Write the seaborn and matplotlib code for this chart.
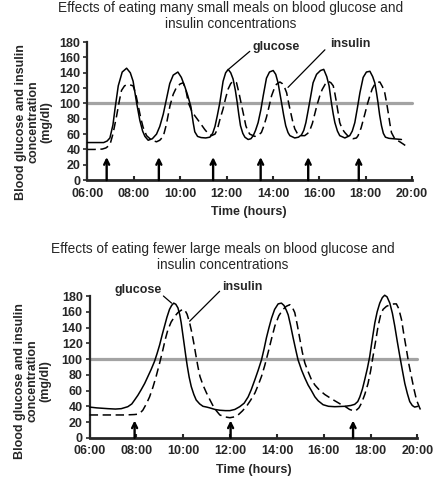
import numpy as np
import pandas as pd
import matplotlib
matplotlib.use("Agg")
import matplotlib.pyplot as plt
import seaborn as sns

# ---- many small meals (hours, mg/dl) ----
small_glu_t = [6.0, 6.4, 6.7, 6.85, 6.97, 7.1, 7.19, 7.33, 7.5, 7.69, 7.85, 7.97, 8.12, 8.26, 8.38, 8.48, 8.62,
               8.8, 8.98, 9.12, 9.27, 9.41, 9.55, 9.7, 9.9, 10.05, 10.2, 10.33, 10.46, 10.56, 10.63, 10.75, 10.9,
               11.1, 11.28, 11.4, 11.5, 11.6, 11.71, 11.85, 11.96, 12.07, 12.18, 12.28, 12.38, 12.46, 12.53, 12.6,
               12.7, 12.79, 12.93, 13.05, 13.15, 13.25, 13.36, 13.48, 13.58, 13.72, 13.85, 14.01, 14.12, 14.22,
               14.3, 14.37, 14.46, 14.55, 14.65, 14.73, 14.94, 15.1, 15.23, 15.33, 15.42, 15.5, 15.59, 15.73,
               15.88, 16.05, 16.19, 16.32, 16.42, 16.52, 16.6, 16.67, 16.78, 16.88, 17.1, 17.31, 17.42, 17.53,
               17.64, 17.75, 17.89, 18.03, 18.18, 18.3, 18.39, 18.46, 18.53, 18.6, 18.68, 18.76, 18.85, 19.0,
               19.18, 19.36, 19.54]
small_glu_v = [49, 49, 49, 51, 55, 72, 93, 123, 141, 146, 140, 129, 101, 78, 64, 57, 52,
               54, 60, 70, 86, 106, 126, 137, 141, 134, 122, 110, 96, 75, 63, 57, 55.5,
               55, 56, 61, 70, 84, 101, 129, 140, 144.5, 140, 132, 117, 101, 85, 71,
               61, 56, 53, 54, 58, 65, 75, 92, 110, 133, 141, 143, 138, 127,
               113, 101, 85, 71, 62, 58, 55, 56, 59, 65, 75, 88, 103, 127,
               138, 143, 144.5, 135, 123, 101, 86, 75, 64, 58, 55, 58, 64, 75,
               94, 114, 134, 141, 142, 135, 127, 115, 101, 85, 71, 61, 56, 54.5,
               54, 53.5, 53]
small_ins_t = [6.0, 6.3, 6.64, 6.8, 6.97, 7.1, 7.26, 7.38, 7.47, 7.6, 7.75, 7.97, 8.08, 8.19, 8.3, 8.4, 8.55,
               8.77, 8.98, 9.12, 9.27, 9.4, 9.56, 9.7, 9.84, 10.0, 10.13, 10.25, 10.35, 10.5, 10.63, 10.85,
               11.06, 11.2, 11.35, 11.5, 11.6, 11.72, 11.85, 11.96, 12.07, 12.18, 12.28, 12.43, 12.54, 12.65,
               12.75, 12.83, 12.92, 13.0, 13.22, 13.38, 13.5, 13.6, 13.72, 13.84, 13.94, 14.05, 14.15, 14.3,
               14.4, 14.5, 14.59, 14.66, 14.73, 14.84, 14.94, 15.05, 15.16, 15.37, 15.5, 15.59, 15.7, 15.8,
               15.9, 16.02, 16.12, 16.25, 16.38, 16.5, 16.6, 16.67, 16.74, 16.81, 16.88, 16.98, 17.1, 17.25,
               17.46, 17.6, 17.67, 17.8, 17.96, 18.08, 18.18, 18.28, 18.39, 18.5, 18.61, 18.72, 18.82, 18.9,
               18.97, 19.04, 19.11, 19.25, 19.47, 19.62, 19.76]
small_ins_v = [40, 40, 40.5, 42, 46, 60, 84, 104, 117, 123, 125, 123, 113, 97, 81, 69, 58,
               52, 50, 52, 57, 72, 97, 112, 121, 125.5, 127, 117, 101, 90, 84, 75,
               66, 61, 58, 60, 66, 80, 93, 107, 119, 126, 129, 127, 113, 97,
               83, 71, 64, 60, 57, 59, 62, 70, 82, 97, 110, 119, 125, 128,
               126, 121, 114, 103, 93, 78, 67, 61, 58, 58, 61, 65, 74, 86,
               98, 110, 118, 125, 129, 127, 123, 113, 101, 88, 75, 67, 62, 57,
               54, 55, 58, 68, 86, 100, 110, 119, 125, 127.5, 128, 122, 114, 101,
               88, 74, 62, 54, 50, 47, 44]
small_meals = [6.83, 9.08, 11.42, 13.47, 15.52, 17.7]

# ---- fewer large meals ----
large_glu_t = [6.0, 6.3, 6.78, 7.1, 7.35, 7.63, 7.8, 7.92, 8.06, 8.2, 8.35, 8.49, 8.63, 8.77, 8.88, 8.99, 9.1,
               9.2, 9.3, 9.41, 9.5, 9.59, 9.68, 9.77, 9.85, 9.91, 9.98, 10.05, 10.11, 10.17, 10.25, 10.34,
               10.45, 10.55, 10.7, 10.84, 11.0, 11.13, 11.35, 11.56, 11.8, 11.99, 12.2, 12.41, 12.6, 12.77,
               12.9, 13.06, 13.2, 13.34, 13.45, 13.55, 13.66, 13.77, 13.9, 14.05, 14.19, 14.3, 14.4, 14.48,
               14.58, 14.69, 14.8, 14.9, 15.05, 15.19, 15.33, 15.47, 15.62, 15.76, 15.97, 16.2, 16.47, 16.9,
               17.15, 17.32, 17.45, 17.54, 17.65, 17.75, 17.86, 17.96, 18.07, 18.18, 18.28, 18.39, 18.5,
               18.6, 18.7, 18.82, 18.93, 19.03, 19.14, 19.25, 19.36, 19.46, 19.57, 19.67, 19.78, 19.88, 20.02]
large_glu_v = [39, 38, 37, 36.5, 37, 39.5, 43, 48, 54, 61, 69, 78, 87, 97, 107, 118, 131,
               142, 153, 163, 168, 171, 169.5, 165, 156, 146, 131, 116, 103, 91, 77, 65,
               55, 48, 43, 40, 39, 38, 36, 35, 34.5, 34.5, 36, 39.5, 44, 52,
               61, 74, 86, 99, 113, 127, 140, 152, 163, 170, 171, 168, 162, 156,
               143, 127, 112, 99, 86, 76, 67, 60, 52, 47, 42, 40, 39.5, 40,
               41, 42.5, 46, 52, 62, 74, 88, 103, 125, 146, 160, 171, 178,
               181, 179, 171, 158, 142, 122, 103, 85, 69, 56, 46, 41, 39, 40]
large_ins_t = [6.0, 6.5, 7.0, 7.5, 7.9, 8.06, 8.17, 8.27, 8.42, 8.56, 8.7, 8.84, 8.99, 9.13, 9.23, 9.34, 9.48,
               9.63, 9.77, 9.91, 10.05, 10.16, 10.27, 10.36, 10.45, 10.53, 10.62, 10.71, 10.84, 10.99, 11.14,
               11.28, 11.42, 11.56, 11.78, 11.99, 12.17, 12.34, 12.52, 12.7, 12.88, 13.06, 13.2, 13.34, 13.48,
               13.62, 13.77, 13.91, 14.08, 14.26, 14.4, 14.55, 14.65, 14.76, 14.87, 14.98, 15.08, 15.19, 15.33,
               15.47, 15.62, 15.8, 16.04, 16.25, 16.47, 16.7, 16.9, 17.1, 17.25, 17.35, 17.5, 17.61, 17.75,
               17.89, 18.0, 18.1, 18.21, 18.32, 18.42, 18.53, 18.68, 18.85, 19.0, 19.1, 19.2, 19.32, 19.42,
               19.53, 19.63, 19.74, 19.85, 19.96, 20.08, 20.17]
large_ins_v = [29, 29, 29, 29, 29.5, 30, 32, 35, 43, 52, 64, 78, 95, 112, 125, 137, 147,
               154, 159, 162, 163, 157, 146, 134, 120, 106, 91, 78, 67, 57, 48,
               40, 34, 29, 26.5, 25.5, 26.5, 29, 34, 40, 48, 57, 67, 78, 92,
               108, 126, 142, 155, 163, 167, 169, 166, 159, 143, 125, 109, 95, 84,
               74, 67, 61, 55, 51, 47, 43, 40, 36, 34.5, 34, 38, 44, 55,
               69, 85, 103, 122, 142, 155, 163, 167, 169, 170, 170, 164, 150, 131,
               112, 94, 78, 62, 48, 39, 33]
large_meals = [7.92, 12.02, 17.25]

ref_level = 100
hour_ticks = [6, 8, 10, 12, 14, 16, 18, 20]
hour_labels = ["06:00", "08:00", "10:00", "12:00", "14:00", "16:00", "18:00", "20:00"]
y_ticks = list(range(0, 181, 20))

sns.set_style("ticks")
plt.rcParams['font.family'] = ['Liberation Sans', 'DejaVu Sans']

fig = plt.figure(figsize=(4.46, 4.79), dpi=100)
ax1 = fig.add_axes([0.196, 0.624, 0.728, 0.288])
ax2 = fig.add_axes([0.201, 0.086, 0.735, 0.296])


def draw(ax, gt, gv, it, iv, meals, arrow_h):
    ax.axhline(ref_level, color="#a3a3a3", lw=2.3, zorder=1)
    sns.lineplot(x=gt, y=gv, ax=ax, color="black", lw=1.1, zorder=3)
    sns.lineplot(x=it, y=iv, ax=ax, color="black", lw=1.1, zorder=3,
                 linestyle=(0, (5.5, 3)))
    for line in ax.lines:
        line.set_clip_on(False)
    for m in meals:
        ax.annotate("", xy=(m, arrow_h), xytext=(m, 0),
                    arrowprops=dict(arrowstyle="->", lw=1.7, color="black",
                                    mutation_scale=9, shrinkA=0, shrinkB=0))
    ax.set_xlim(6, 20)
    ax.set_ylim(0, 180)
    ax.set_xticks(hour_ticks)
    ax.set_xticklabels(hour_labels)
    ax.set_yticks(y_ticks)
    for lab in ax.get_xticklabels() + ax.get_yticklabels():
        lab.set_fontweight("bold")
        lab.set_fontsize(9)
    ax.tick_params(axis="x", direction="in", length=3, width=1.5, pad=5.5)
    ax.tick_params(axis="y", direction="out", length=3, width=1.2, pad=2)
    sns.despine(ax=ax)
    ax.spines["left"].set_linewidth(1.6)
    ax.spines["bottom"].set_linewidth(2.0)
    ax.set_xlabel("Time (hours)", fontsize=9, fontweight="bold")
    ax.set_ylabel("Blood glucose and insulin\nconcentration\n(mg/dl)",
                  fontsize=9, fontweight="bold", linespacing=1.1)


draw(ax1, small_glu_t, small_glu_v, small_ins_t, small_ins_v, small_meals, 30)
draw(ax2, large_glu_t, large_glu_v, large_ins_t, large_ins_v, large_meals, 22)

ax1.xaxis.set_label_coords(0.497, -0.19)
ax1.yaxis.set_label_coords(-0.107, 0.42)
ax2.xaxis.set_label_coords(0.50, -0.185)
ax2.yaxis.set_label_coords(-0.116, 0.40)

# curve labels
ax1.text(13.1, 174, "glucose", fontsize=9, fontweight="bold", va="center", ha="left")
ax1.plot([13.0, 12.1], [168, 145], color="black", lw=0.9, clip_on=False)
ax1.text(16.45, 177, "insulin", fontsize=9, fontweight="bold", va="center", ha="left")
ax1.plot([16.24, 14.65], [170, 121], color="black", lw=0.9, clip_on=False)

ax2.text(8.08, 188, "glucose", fontsize=9, fontweight="bold", va="center", ha="center")
ax2.plot([9.15, 9.5], [180, 171], color="black", lw=0.9, clip_on=False)
ax2.text(12.52, 192, "insulin", fontsize=9, fontweight="bold", va="center", ha="center")
ax2.plot([11.55, 10.27], [186, 148], color="black", lw=0.9, clip_on=False)

fig.text(0.517, 0.967, "Effects of eating many small meals on blood glucose and\ninsulin concentrations",
         ha="center", va="center", fontsize=9.8, linespacing=1.15)
fig.text(0.50, 0.4635, "Effects of eating fewer large meals on blood glucose and\ninsulin concentrations",
         ha="center", va="center", fontsize=9.8, linespacing=1.15)

fig.savefig("out.png", dpi=100)
